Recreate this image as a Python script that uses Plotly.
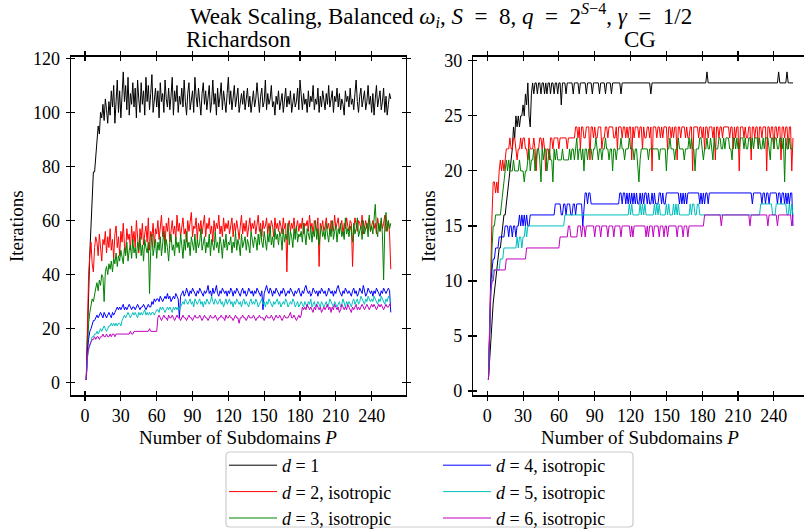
import plotly.graph_objects as go

W, H = 804, 529
P = list(range(1, 257))

# ---------------- Richardson iterations ----------------
rich_d1 = [
    1, 20, 35, 48, 58, 66, 78, 78, 84, 90, 95, 92, 100, 98, 103, 97, 105, 101, 96, 104,
    99, 108, 102, 110, 96, 104, 112, 100, 108, 98, 106, 115, 104, 110, 101, 113, 99, 107, 103, 111,
    102, 109, 98, 112, 105, 100, 111, 103, 108, 99, 113, 104, 110, 101, 107, 114, 100, 106, 109, 102,
    108, 98, 111, 104, 107, 100, 112, 105, 102, 109, 101, 106, 113, 99, 108, 104, 110, 100, 106, 103,
    109, 102, 112, 104, 99, 107, 111, 101, 105, 108, 100, 113, 106, 102, 109, 104, 99, 107, 111, 103,
    108, 101, 105, 110, 100, 104, 112, 103, 107, 99, 109, 102, 106, 111, 101, 108, 104, 100, 107, 113,
    103, 108, 101, 106, 110, 102, 105, 109, 100, 104, 107, 103, 108, 101, 105, 109, 102, 106, 100, 104,
    108, 102, 105, 111, 103, 100, 106, 109, 102, 104, 112, 101, 107, 103, 105, 110, 102, 104, 99, 106,
    103, 108, 101, 105, 107, 100, 104, 109, 102, 106, 103, 108, 100, 105, 107, 102, 104, 109, 101, 112,
    104, 101, 107, 103, 105, 100, 108, 102, 106, 104, 110, 101, 105, 103, 109, 100, 106, 102, 108, 104,
    101, 107, 103, 110, 102, 105, 108, 100, 106, 104, 109, 102, 107, 101, 105, 103, 99, 108, 104, 106,
    102, 109, 103, 105, 101, 107, 112, 104, 100, 106, 109, 102, 105, 108, 101, 104, 110, 103, 106, 100,
    107, 99, 105, 110, 102, 106, 108, 101, 104, 109, 100, 106, 99, 103, 107, 105,
]
rich_d2 = [
    1, 28, 40, 47, 52, 44, 41, 50, 54, 52, 47, 55, 49, 45, 53, 51, 56, 48, 54, 50,
    57, 49, 53, 46, 55, 58, 50, 54, 47, 56, 52, 59, 51, 48, 57, 53, 55, 49, 58, 52,
    56, 50, 60, 54, 48, 57, 53, 59, 51, 55, 58, 52, 61, 49, 56, 54, 59, 50, 57, 55,
    60, 53, 57, 62, 54, 58, 51, 59, 56, 61, 52, 57, 60, 55, 58, 53, 62, 56, 59, 54,
    58, 61, 55, 57, 52, 60, 56, 59, 63, 54, 58, 57, 61, 53, 59, 56, 60, 55, 58, 62,
    54, 59, 57, 61, 55, 58, 52, 60, 56, 59, 57, 62, 55, 58, 54, 61, 56, 59, 57, 60,
    55, 58, 61, 54, 59, 56, 60, 57, 53, 58, 62, 55, 59, 56, 60, 54, 58, 61, 56, 59,
    57, 60, 55, 58, 62, 56, 59, 54, 60, 57, 58, 61, 55, 59, 56, 60, 58, 54, 61, 57,
    59, 56, 60, 58, 55, 61, 57, 59, 41, 58, 60, 56, 59, 57, 61, 55, 58, 60, 56, 59,
    57, 61, 55, 59, 58, 60, 56, 62, 57, 59, 55, 60, 58, 56, 61, 43, 59, 57, 60, 56,
    58, 61, 57, 59, 55, 60, 58, 56, 62, 57, 59, 61, 56, 58, 60, 55, 59, 57, 61, 58,
    56, 60, 59, 43, 57, 61, 58, 56, 60, 59, 57, 62, 55, 58, 60, 57, 59, 61, 56, 58,
    60, 57, 59, 55, 61, 58, 56, 60, 57, 59, 62, 56, 58, 60, 55, 42,
]
rich_d3 = [
    1, 15, 22, 26, 28, 31, 30, 33, 35, 37, 34, 38, 36, 40, 39, 30, 41, 43, 40, 44,
    42, 45, 41, 46, 44, 48, 43, 47, 45, 49, 46, 44, 50, 47, 52, 45, 49, 51, 46, 53,
    48, 50, 46, 52, 49, 54, 47, 51, 45, 53, 50, 48, 52, 33, 49, 55, 47, 51, 53, 46,
    52, 49, 54, 47, 51, 56, 48, 53, 50, 45, 52, 55, 49, 51, 47, 54, 50, 52, 48, 55,
    51, 46, 53, 49, 56, 50, 52, 47, 54, 51, 49, 55, 48, 53, 50, 52, 57, 49, 51, 54,
    48, 52, 50, 55, 47, 53, 51, 49, 56, 50, 52, 48, 54, 51, 46, 53, 50, 55, 49, 52,
    51, 54, 48, 52, 50, 56, 49, 53, 51, 47, 55, 50, 52, 54, 49, 53, 51, 48, 56, 52,
    50, 54, 53, 49, 55, 51, 57, 52, 50, 56, 53, 49, 55, 52, 58, 51, 54, 50, 57, 53,
    55, 51, 56, 54, 49, 57, 52, 55, 53, 59, 51, 56, 54, 50, 57, 53, 58, 52, 55, 54,
    56, 52, 59, 54, 51, 57, 55, 53, 58, 52, 56, 54, 60, 53, 57, 51, 55, 58, 54, 56,
    53, 59, 55, 52, 57, 54, 60, 53, 56, 58, 52, 57, 55, 59, 54, 56, 53, 61, 55, 57,
    54, 58, 56, 52, 59, 55, 57, 61, 54, 56, 58, 53, 60, 55, 57, 59, 54, 62, 56, 58,
    55, 60, 66, 57, 54, 59, 56, 61, 55, 38, 58, 63, 56, 60, 57, 59,
]
rich_d4 = [
    1, 12, 16, 19, 20, 22, 23, 23, 24, 25, 24, 25, 26, 25, 24, 26, 25, 24, 25, 26,
    25, 24, 26, 25, 26, 27, 28, 27, 28, 27, 28, 29, 27, 28, 27, 28, 29, 28, 27, 28,
    28, 27, 28, 29, 28, 27, 28, 28, 29, 28, 27, 28, 29, 28, 28, 30, 29, 31, 30, 31,
    31, 30, 32, 31, 30, 31, 32, 31, 33, 31, 32, 30, 31, 32, 31, 33, 32, 31, 24, 32,
    33, 34, 32, 33, 35, 33, 32, 34, 33, 35, 34, 33, 32, 34, 33, 35, 34, 33, 32, 34,
    33, 34, 36, 33, 34, 32, 35, 33, 34, 36, 33, 32, 34, 33, 35, 34, 33, 34, 32, 34,
    33, 35, 34, 32, 34, 33, 35, 34, 33, 32, 34, 35, 33, 34, 32, 33, 35, 34, 33, 34,
    32, 34, 33, 35, 34, 33, 32, 34, 27, 33, 35, 36, 34, 33, 35, 34, 32, 34, 33, 35,
    34, 33, 32, 34, 33, 35, 34, 32, 33, 34, 33, 35, 34, 33, 32, 34, 33, 34, 35, 33,
    32, 34, 33, 35, 36, 34, 33, 34, 32, 33, 35, 34, 33, 34, 32, 34, 33, 35, 34, 33,
    34, 32, 33, 35, 34, 33, 34, 32, 34, 33, 35, 36, 34, 33, 32, 34, 33, 35, 34, 33,
    34, 33, 32, 34, 35, 33, 34, 32, 33, 35, 34, 33, 36, 34, 32, 33, 35, 34, 33, 34,
    32, 34, 33, 35, 34, 33, 32, 34, 33, 35, 34, 33, 34, 35, 34, 26,
]
rich_d5 = [
    1, 9, 12, 14, 16, 17, 17, 18, 18, 19, 18, 19, 20, 19, 20, 21, 20, 19, 20, 21,
    21, 22, 21, 22, 21, 22, 21, 22, 22, 21, 23, 24, 25, 24, 25, 26, 25, 24, 25, 26,
    25, 26, 25, 24, 26, 25, 26, 25, 26, 27, 25, 26, 25, 26, 25, 26, 26, 25, 26, 27,
    27, 26, 28, 27, 28, 27, 26, 27, 28, 27, 28, 27, 26, 28, 27, 28, 27, 28, 27, 28,
    29, 30, 29, 31, 30, 29, 30, 31, 29, 30, 28, 31, 30, 29, 30, 31, 29, 30, 28, 30,
    29, 31, 30, 29, 30, 32, 30, 29, 31, 30, 29, 30, 31, 29, 30, 28, 30, 31, 29, 30,
    31, 29, 30, 28, 30, 29, 31, 30, 29, 30, 28, 30, 31, 29, 30, 29, 28, 30, 31, 29,
    30, 29, 31, 30, 28, 29, 30, 31, 29, 30, 28, 30, 29, 31, 30, 29, 28, 30, 29, 30,
    31, 29, 30, 28, 29, 30, 29, 31, 30, 28, 29, 30, 29, 31, 30, 28, 29, 30, 28, 29,
    30, 29, 28, 30, 29, 28, 30, 29, 31, 28, 29, 30, 28, 29, 30, 29, 28, 30, 29, 28,
    29, 30, 28, 29, 31, 30, 29, 28, 30, 29, 28, 29, 30, 28, 29, 31, 29, 28, 30, 29,
    30, 29, 28, 30, 31, 29, 30, 31, 29, 30, 32, 31, 30, 29, 31, 30, 32, 31, 30, 31,
    30, 32, 31, 30, 29, 31, 30, 32, 31, 30, 29, 31, 30, 32, 31, 30,
]
rich_d6 = [
    1, 10, 13, 14, 15, 16, 16, 17, 16, 17, 17, 16, 17, 17, 18, 17, 17, 18, 17, 17,
    18, 17, 18, 18, 17, 18, 18, 18, 18, 18, 18, 18, 18, 18, 18, 18, 18, 19, 18, 18,
    19, 19, 19, 19, 19, 19, 19, 19, 19, 19, 19, 19, 19, 20, 19, 19, 19, 19, 19, 19,
    24, 25, 24, 23, 24, 25, 24, 24, 23, 25, 24, 24, 25, 24, 23, 24, 25, 24, 24, 23,
    24, 25, 24, 24, 23, 24, 25, 24, 24, 23, 24, 25, 24, 24, 24, 25, 24, 23, 24, 25,
    24, 24, 23, 24, 25, 24, 24, 24, 25, 24, 23, 24, 24, 25, 24, 24, 23, 25, 24, 24,
    25, 24, 24, 23, 24, 25, 24, 24, 22, 24, 24, 25, 24, 24, 23, 24, 25, 24, 24, 24,
    25, 24, 23, 24, 24, 25, 24, 24, 24, 23, 24, 25, 24, 24, 24, 25, 24, 23, 24, 25,
    24, 24, 25, 24, 23, 24, 25, 24, 24, 24, 25, 26, 24, 24, 25, 24, 23, 24, 25, 24,
    25, 28, 27, 28, 27, 29, 28, 27, 28, 27, 26, 28, 27, 29, 28, 27, 28, 26, 27, 28,
    27, 28, 29, 27, 28, 26, 28, 27, 29, 28, 27, 28, 26, 27, 29, 28, 27, 28, 27, 29,
    28, 27, 26, 28, 27, 28, 29, 27, 28, 27, 28, 29, 28, 27, 28, 29, 28, 27, 28, 29,
    28, 29, 28, 27, 28, 29, 28, 29, 28, 27, 28, 29, 28, 28, 29, 28,
]

# ---------------- CG iterations: (P where the value changes, new value) ----------------
cg_d1_steps = [
    (1, 1), (2, 3), (3, 5), (4, 7), (5, 8), (6, 9), (7, 10), (8, 11), (9, 12), (10, 13),
    (12, 14), (13, 15), (14, 16), (16, 17), (17, 18), (18, 19), (19, 20), (20, 21), (21, 22),
    (22, 24), (23, 23), (24, 25), (25, 24), (26, 25), (27, 24), (28, 25), (30, 26), (31, 25),
    (32, 27), (33, 26), (34, 28), (35, 25), (36, 24), (37, 27), (38, 28), (39, 27), (40, 28),
    (42, 27), (43, 28), (45, 27), (46, 28), (48, 27), (49, 28), (50, 27), (51, 28), (53, 27),
    (54, 28), (56, 27), (57, 28), (59, 27), (60, 28), (62, 26), (63, 28), (66, 27), (67, 28),
    (72, 27), (73, 28), (77, 27), (78, 28), (83, 27), (84, 28), (88, 27), (89, 28), (94, 27),
    (95, 28), (99, 27), (100, 28), (104, 27), (105, 28), (112, 27), (113, 28), (137, 27),
    (138, 28), (184, 29), (185, 28), (244, 29), (245, 28), (251, 29), (252, 28),
]
cg_d2_steps = [
    (1, 1), (2, 5), (3, 11), (4, 16), (5, 19), (7, 18), (8, 19), (9, 18), (10, 20), (11, 21),
    (12, 20), (13, 21), (14, 20), (15, 21), (16, 22), (19, 23), (20, 22), (22, 23), (24, 22),
    (25, 21), (26, 22), (28, 23), (29, 22), (30, 23), (32, 22), (34, 21), (35, 23), (36, 22),
    (39, 23), (40, 22), (41, 20), (42, 22), (44, 23), (46, 22), (47, 23), (48, 22), (49, 20),
    (50, 22), (52, 21), (53, 23), (55, 22), (56, 23), (60, 22), (61, 23), (67, 22), (68, 23),
    (74, 24), (76, 23), (77, 24), (78, 22), (79, 24), (81, 23), (83, 24), (86, 21), (87, 24),
    (89, 23), (90, 24), (91, 23), (93, 24), (96, 22), (97, 23), (99, 24), (101, 23), (102, 24),
    (106, 23), (108, 24), (109, 22), (110, 24), (113, 23), (114, 24), (116, 23), (117, 24),
    (118, 23), (119, 24), (121, 21), (122, 24), (123, 23), (124, 24), (127, 23), (128, 24),
    (130, 22), (131, 24), (132, 23), (134, 24), (136, 23), (137, 24), (138, 20), (139, 24),
    (142, 23), (143, 24), (145, 23), (146, 24), (147, 23), (148, 24), (151, 22), (152, 24),
    (154, 23), (155, 24), (156, 23), (157, 24), (159, 21), (160, 24), (162, 23), (163, 24),
    (166, 23), (167, 24), (168, 23), (170, 24), (172, 20), (173, 24), (177, 23), (178, 24),
    (180, 23), (181, 24), (182, 22), (183, 24), (185, 23), (186, 24), (189, 23), (190, 24),
    (191, 21), (192, 24), (194, 23), (195, 24), (197, 23), (198, 24), (203, 23), (204, 24),
    (206, 22), (207, 24), (208, 23), (209, 24), (211, 20), (212, 24), (215, 23), (216, 24),
    (217, 23), (219, 24), (221, 21), (222, 24), (224, 23), (225, 24), (227, 22), (228, 24),
    (230, 23), (231, 24), (234, 20), (235, 24), (237, 23), (238, 24), (240, 22), (241, 24),
    (243, 23), (244, 24), (246, 21), (247, 24), (249, 23), (250, 24), (252, 22), (253, 24),
    (255, 20), (256, 23),
]
cg_d3_steps = [
    (1, 1), (2, 6), (3, 10), (4, 13), (5, 15), (7, 16), (12, 17), (13, 18), (14, 19), (15, 20),
    (16, 21), (17, 20), (18, 21), (19, 20), (22, 21), (23, 20), (27, 21), (28, 20), (31, 19),
    (32, 20), (34, 21), (35, 22), (36, 20), (37, 21), (39, 22), (40, 20), (41, 21), (42, 22),
    (44, 21), (45, 19), (46, 22), (47, 21), (48, 22), (50, 20), (51, 21), (52, 22), (53, 21),
    (55, 19), (56, 22), (57, 21), (58, 22), (59, 21), (63, 22), (64, 21), (69, 22), (70, 21),
    (71, 22), (73, 21), (74, 22), (75, 23), (76, 21), (77, 22), (79, 21), (80, 22), (81, 20),
    (82, 22), (84, 21), (85, 22), (88, 21), (89, 22), (91, 23), (92, 22), (93, 21), (94, 22),
    (96, 21), (97, 22), (99, 23), (100, 22), (102, 21), (103, 22), (105, 20), (106, 22),
    (108, 21), (109, 22), (112, 23), (113, 22), (115, 21), (116, 22), (119, 23), (120, 22),
    (123, 21), (124, 22), (126, 20), (127, 19), (128, 21), (129, 22), (135, 21), (136, 22),
    (144, 21), (145, 22), (150, 20), (151, 22), (153, 23), (154, 22), (157, 21), (158, 22),
    (160, 23), (161, 22), (165, 21), (166, 22), (169, 23), (170, 22), (171, 23), (172, 22),
    (174, 20), (175, 22), (178, 23), (180, 22), (181, 21), (182, 22), (184, 23), (185, 22),
    (187, 23), (188, 22), (189, 21), (190, 23), (191, 22), (194, 23), (196, 22), (198, 23),
    (199, 22), (200, 23), (203, 22), (205, 21), (206, 23), (208, 22), (209, 23), (210, 22),
    (212, 23), (215, 22), (216, 23), (217, 22), (219, 23), (221, 22), (222, 23), (223, 22),
    (224, 23), (227, 22), (228, 23), (229, 22), (231, 23), (232, 22), (233, 23), (236, 22),
    (237, 21), (238, 23), (240, 22), (241, 23), (243, 22), (245, 23), (247, 22), (248, 23),
    (249, 19), (250, 23), (251, 22), (253, 23), (254, 22),
]
cg_d4_steps = [
    (1, 1), (2, 7), (3, 10), (4, 11), (5, 12), (7, 13), (10, 14), (15, 15), (18, 14), (19, 15),
    (21, 14), (22, 15), (24, 14), (25, 15), (27, 16), (28, 15), (29, 16), (30, 15), (31, 16),
    (32, 15), (33, 16), (34, 15), (36, 16), (57, 17), (62, 16), (64, 17), (66, 16), (67, 17),
    (70, 16), (72, 17), (74, 16), (75, 17), (80, 15), (81, 17), (82, 18), (84, 17), (85, 18),
    (87, 17), (111, 18), (113, 17), (114, 18), (116, 17), (117, 18), (118, 17), (119, 18),
    (120, 17), (121, 18), (122, 17), (123, 18), (124, 17), (125, 18), (126, 17), (128, 18),
    (129, 17), (130, 18), (131, 17), (132, 18), (134, 17), (135, 18), (136, 17), (138, 18),
    (139, 17), (140, 18), (141, 17), (144, 18), (146, 17), (147, 18), (148, 17), (150, 18),
    (161, 17), (162, 18), (163, 17), (164, 18), (165, 17), (166, 18), (167, 17), (168, 18),
    (178, 17), (179, 18), (180, 17), (181, 18), (182, 17), (183, 18), (185, 17), (186, 18),
    (222, 17), (223, 18), (230, 17), (231, 18), (233, 17), (234, 18), (236, 17), (237, 18),
    (243, 17), (244, 18), (246, 17), (247, 18), (249, 17), (250, 18), (251, 17), (252, 18),
    (253, 17), (254, 18), (256, 15),
]
cg_d5_steps = [
    (1, 1), (2, 6), (3, 9), (4, 10), (5, 11), (11, 12), (14, 13), (25, 14), (26, 13), (27, 14),
    (29, 13), (30, 14), (32, 15), (33, 14), (34, 15), (65, 16), (119, 17), (120, 16), (121, 17),
    (122, 16), (128, 17), (129, 16), (130, 17), (131, 16), (132, 17), (133, 16), (140, 17),
    (141, 16), (142, 17), (143, 16), (144, 17), (145, 16), (150, 17), (151, 16), (152, 17),
    (153, 16), (156, 17), (157, 16), (158, 17), (159, 16), (160, 17), (161, 16), (170, 17),
    (171, 16), (172, 17), (174, 16), (176, 17), (178, 16), (229, 17), (239, 16), (242, 17),
    (251, 16), (253, 17), (254, 16), (255, 17), (256, 16),
]
cg_d6_steps = [
    (1, 1), (2, 6), (3, 9), (4, 10), (6, 11), (16, 12), (33, 13), (61, 14), (68, 15), (70, 14),
    (76, 15), (79, 14), (80, 15), (82, 14), (83, 15), (90, 14), (91, 15), (95, 14), (96, 15),
    (101, 14), (102, 15), (106, 14), (107, 15), (112, 14), (113, 15), (120, 14), (121, 15),
    (122, 14), (123, 15), (133, 14), (134, 15), (135, 14), (136, 15), (139, 14), (140, 15),
    (144, 14), (145, 15), (148, 14), (149, 15), (151, 14), (152, 15), (159, 14), (160, 15),
    (164, 14), (165, 15), (168, 14), (169, 15), (182, 16), (196, 15), (197, 16), (220, 15),
    (221, 16), (235, 15), (236, 16), (243, 15), (244, 16), (255, 15), (256, 16),
]

names = ["<i>d</i> = 1", "<i>d</i> = 2, isotropic", "<i>d</i> = 3, isotropic",
         "<i>d</i> = 4, isotropic", "<i>d</i> = 5, isotropic", "<i>d</i> = 6, isotropic"]
colors = ["#000000", "#ff0000", "#008000", "#0000ff", "#00bfbf", "#bf00bf"]
legend_col = ["legend", "legend", "legend", "legend2", "legend2", "legend2"]

x_ticks = [0, 30, 60, 90, 120, 150, 180, 210, 240]
rich_y_ticks = [0, 20, 40, 60, 80, 100, 120]
cg_y_ticks = [0, 5, 10, 15, 20, 25, 30]


def expand(steps, n=256):
    out, j, cur = [], 0, steps[0][1]
    for p in range(1, n + 1):
        while j < len(steps) and steps[j][0] <= p:
            cur = steps[j][1]
            j += 1
        out.append(cur)
    return out


rich = [rich_d1, rich_d2, rich_d3, rich_d4, rich_d5, rich_d6]
cg = [expand(s) for s in (cg_d1_steps, cg_d2_steps, cg_d3_steps,
                          cg_d4_steps, cg_d5_steps, cg_d6_steps)]
for s in rich + cg:
    if len(s) != 256:
        raise ValueError("series length %d" % len(s))

FONT = "Liberation Serif, 'Times New Roman', 'DejaVu Serif', serif"
TICK = 18
LAB = 19
LEG = 18
TTL = 23

fig = go.Figure()
for i in range(6):
    fig.add_trace(go.Scatter(x=P, y=rich[i], mode="lines", name=names[i],
                             line=dict(color=colors[i], width=1),
                             legend=legend_col[i], xaxis="x", yaxis="y"))
for i in range(6):
    fig.add_trace(go.Scatter(x=P, y=cg[i], mode="lines", name=names[i],
                             line=dict(color=colors[i], width=1), showlegend=False,
                             xaxis="x2", yaxis="y2"))
# empty traces that carry the inner halves of the ticks
fig.add_trace(go.Scatter(x=[None], y=[None], xaxis="x3", yaxis="y3", showlegend=False))
fig.add_trace(go.Scatter(x=[None], y=[None], xaxis="x4", yaxis="y4", showlegend=False))


def px_x(v):
    return v / W


def px_y(v):
    return 1 - v / H


ydom = [px_y(395.4), px_y(56.5)]
x1dom = [px_x(71.0), px_x(406.0)]
x2dom = [px_x(473.2), 1.0]
xr1 = [-11.75, 268.75]
xr2 = [-11.75, (804 - 473.2) / (335.0 / 280.5) - 11.75]
yr1 = [-4.7, 120.7]
yr2 = [-0.4, 30.4]

base = dict(showgrid=False, zeroline=False, showline=True, linecolor="black", linewidth=1.3,
            ticklen=4, tickwidth=1.1, tickcolor="black",
            tickfont=dict(family=FONT, size=TICK, color="black"))

leg = dict(orientation="v", xanchor="left", yanchor="top", borderwidth=0,
           bgcolor="rgba(0,0,0,0)", font=dict(family=FONT, size=LEG, color="black"),
           tracegroupgap=0, itemwidth=48)

fig.update_layout(
    width=W, height=H, margin=dict(l=0, r=0, t=0, b=0, autoexpand=False),
    paper_bgcolor="white", plot_bgcolor="white",
    font=dict(family=FONT, size=TICK, color="black"),
    hovermode=False,
    xaxis=dict(base, domain=x1dom, range=xr1, tickvals=x_ticks, ticks="outside",
               mirror="ticks", anchor="y"),
    yaxis=dict(base, domain=ydom, range=yr1, tickvals=rich_y_ticks, ticks="outside",
               mirror="ticks", anchor="x", ticklabelstandoff=2),
    xaxis2=dict(base, domain=x2dom, range=xr2, tickvals=x_ticks, ticks="outside",
                mirror="ticks", anchor="y2"),
    yaxis2=dict(base, domain=ydom, range=yr2, tickvals=cg_y_ticks, ticks="outside",
                mirror=False, anchor="x2", ticklabelstandoff=2),
    xaxis3=dict(base, overlaying="x", range=xr1, tickvals=x_ticks, ticks="inside",
                mirror="ticks", showticklabels=False, anchor="y"),
    yaxis3=dict(base, overlaying="y", range=yr1, tickvals=rich_y_ticks, ticks="inside",
                mirror="ticks", showticklabels=False, anchor="x"),
    xaxis4=dict(base, overlaying="x2", range=xr2, tickvals=x_ticks, ticks="inside",
                mirror="ticks", showticklabels=False, anchor="y2"),
    yaxis4=dict(base, overlaying="y2", range=yr2, tickvals=cg_y_ticks, ticks="inside",
                mirror=False, showticklabels=False, anchor="x2"),
    legend=dict(leg, x=px_x(224), y=px_y(447)),
    legend2=dict(leg, x=px_x(438), y=px_y(447)),
    showlegend=True,
)

# legend frame with rounded corners (pixels converted to paper units)
x0, x1, y0, y1, r = 226, 633, 452, 527, 4
path = ("M {a},{b} L {c},{b} Q {d},{b} {d},{e} L {d},{f} Q {d},{g} {c},{g} "
        "L {a},{g} Q {h},{g} {h},{f} L {h},{e} Q {h},{b} {a},{b} Z").format(
    a=px_x(x0 + r), b=px_y(y0), c=px_x(x1 - r), d=px_x(x1), e=px_y(y0 + r),
    f=px_y(y1 - r), g=px_y(y1), h=px_x(x0))
fig.add_shape(type="path", path=path, xref="paper", yref="paper",
              line=dict(color="#cccccc", width=1.2), fillcolor="rgba(255,255,255,0.8)",
              layer="below")

EQ = "\u2002=\u2002"
ann = [
    dict(text="Weak Scaling, Balanced <i>ω<sub>i</sub></i>, <i>S</i>" + EQ + "8, "
              "<i>q</i>" + EQ + "2<sup><i>S</i>−4</sup>, <i>γ</i>" + EQ + "1/2",
         x=px_x(441), y=px_y(15), size=TTL),
    dict(text="Richardson", x=px_x(238), y=px_y(39), size=TTL),
    dict(text="CG", x=px_x(640), y=px_y(39), size=TTL),
    dict(text="Number of Subdomains <i>P</i>", x=px_x(238), y=px_y(437), size=LAB),
    dict(text="Number of Subdomains <i>P</i>", x=px_x(640), y=px_y(437), size=LAB),
]
for a in ann:
    fig.add_annotation(text=a["text"], x=a["x"], y=a["y"], xref="paper", yref="paper",
                       showarrow=False, xanchor="center", yanchor="middle",
                       font=dict(family=FONT, size=a["size"], color="black"))
for xp in (16, 428):
    fig.add_annotation(text="Iterations", x=px_x(xp), y=px_y(226), xref="paper", yref="paper",
                       showarrow=False, textangle=-90, xanchor="center", yanchor="middle",
                       font=dict(family=FONT, size=LAB, color="black"))

fig.write_html("out.html", config={"displayModeBar": False, "staticPlot": True},
               post_script="document.body.style.margin='0';document.body.style.overflow='hidden';")
